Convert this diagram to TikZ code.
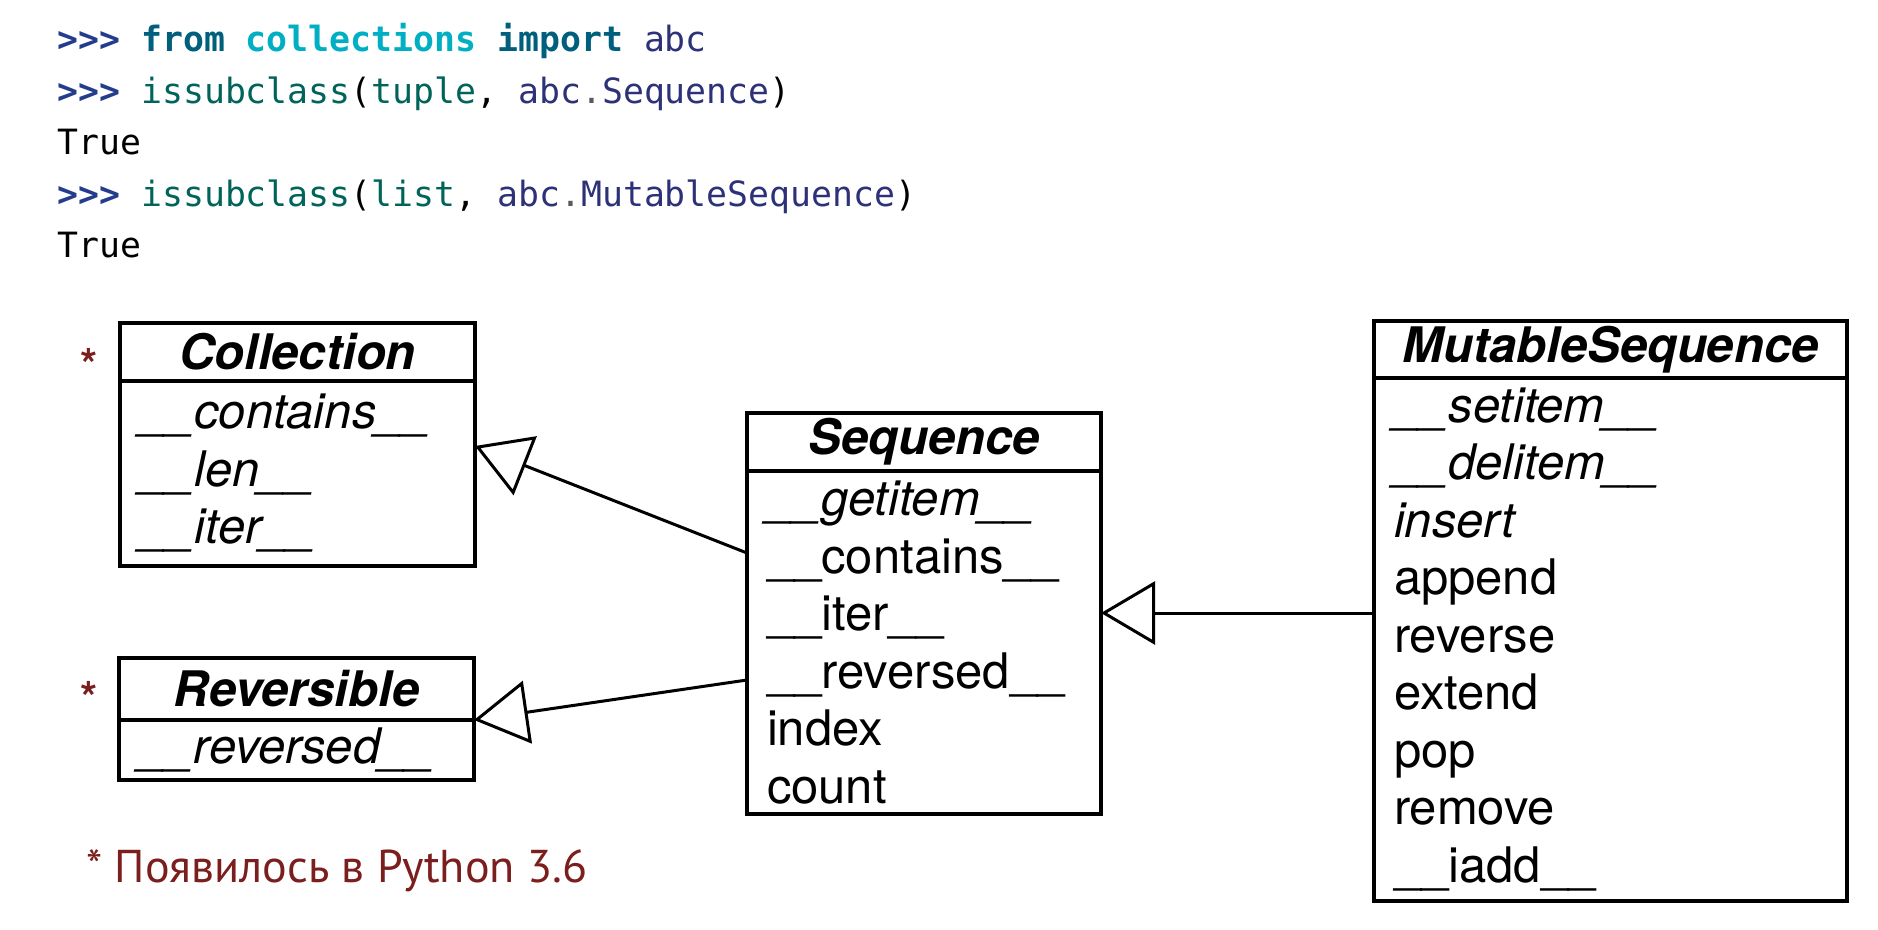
\documentclass[tikz,border=0pt]{standalone}
\usepackage{fontspec}
\setmainfont{TeX Gyre Heros}
\newfontfamily\codefont{DejaVu Sans Mono}
\newfontfamily\notefont{PT Sans}
\usetikzlibrary{arrows.meta,positioning}
\usepackage{xcolor}
\definecolor{promptblue}{RGB}{36,60,140}
\definecolor{kwteal}{RGB}{0,95,125}
\definecolor{modcyan}{RGB}{0,175,195}
\definecolor{namenavy}{RGB}{45,50,120}
\definecolor{functeal}{RGB}{0,100,90}
\definecolor{dotgray}{RGB}{90,90,90}
\definecolor{notered}{RGB}{122,30,30}

\begin{document}
\begin{tikzpicture}[x=0.5pt, y=-0.5pt, font=\fontsize{24.5}{28.75}\selectfont,
  classhead/.style={rectangle, draw=black, line width=2pt, outer sep=0pt, inner sep=0pt, minimum height=29pt, font=\fontsize{24.5}{28.75}\selectfont\bfseries\itshape},
  classbody/.style={rectangle, draw=black, line width=2pt, outer sep=0pt, inner xsep=10pt, inner ysep=0pt, align=left, below=0pt of #1},
  inherit/.style={-{Triangle[open, length=27pt, width=31.5pt]}, line width=1.5pt},
  codeline/.style={anchor=base west, inner sep=0pt, font=\codefont\fontsize{17.4}{20}\selectfont},
  newmark/.style={anchor=base, inner sep=0pt, text=notered, font=\fontsize{22}{22}\selectfont\bfseries}]
\useasboundingbox (0,0) rectangle (1878,930);

% interpreter session
\node[codeline] (code1) at (57,52) {{\bfseries\color{promptblue}>>>} {\bfseries\color{kwteal}from} {\bfseries\color{modcyan}collections} {\bfseries\color{kwteal}import} {\color{namenavy}abc}};
\node[codeline] (code2) at (57,103.5) {{\bfseries\color{promptblue}>>>} {\color{functeal}issubclass}({\color{functeal}tuple}, {\color{namenavy}abc{\color{dotgray}.}Sequence})};
\node[codeline] (code3) at (57,155) {True};
\node[codeline] (code4) at (57,206.5) {{\bfseries\color{promptblue}>>>} {\color{functeal}issubclass}({\color{functeal}list}, {\color{namenavy}abc{\color{dotgray}.}MutableSequence})};
\node[codeline] (code5) at (57,258) {True};

% classes
\node[classhead, minimum width=177.5pt, anchor=north west] (collhead) at (120,323) {Collection};
\node[classbody=collhead, text width=157.5pt, minimum height=92.5pt] (collbody) {\textit{\_\_contains\_\_}\\ \textit{\_\_len\_\_}\\ \textit{\_\_iter\_\_}};
\node[newmark] (collmark) at (89,380) {*};

\node[classhead, minimum width=177.5pt, minimum height=31pt, anchor=north west] (revhead) at (119,658) {Reversible};
\node[classbody=revhead, text width=157.5pt, minimum height=30pt] (revbody) {\textit{\_\_reversed\_\_}};
\node[newmark] (revmark) at (89,713.5) {*};

\node[classhead, minimum width=177pt, anchor=north west] (seqhead) at (747,413) {Sequence};
\node[classbody=seqhead, text width=157pt, minimum height=171.5pt] (seqbody) {\textit{\_\_getitem\_\_}\\ \_\_contains\_\_\\ \_\_iter\_\_\\ \_\_reversed\_\_\\ index\\ count};

\node[classhead, minimum width=236.5pt, minimum height=28.5pt, anchor=north west] (mshead) at (1374,321) {MutableSequence};
\node[classbody=mshead, text width=216.5pt, minimum height=261.5pt] (msbody) {\textit{\_\_setitem\_\_}\\ \textit{\_\_delitem\_\_}\\ \textit{insert}\\ append\\ reverse\\ extend\\ pop\\ remove\\ \_\_iadd\_\_};

% inheritance
\draw[inherit] ([yshift=44.75pt]seqbody.west) -- ([yshift=13.75pt]collbody.east);
\draw[inherit] ([yshift=-18.75pt]seqbody.west) -- (revhead.south east);
\coordinate (msport) at ([yshift=13.25pt]msbody.west);
\draw[inherit] (msport) -- (msport -| seqbody.east);

\node[anchor=base west, inner sep=0pt, text=notered, font=\notefont\fontsize{23}{23}\selectfont] (note) at (86,882) {* Появилось в Python 3.6};
\end{tikzpicture}
\end{document}
